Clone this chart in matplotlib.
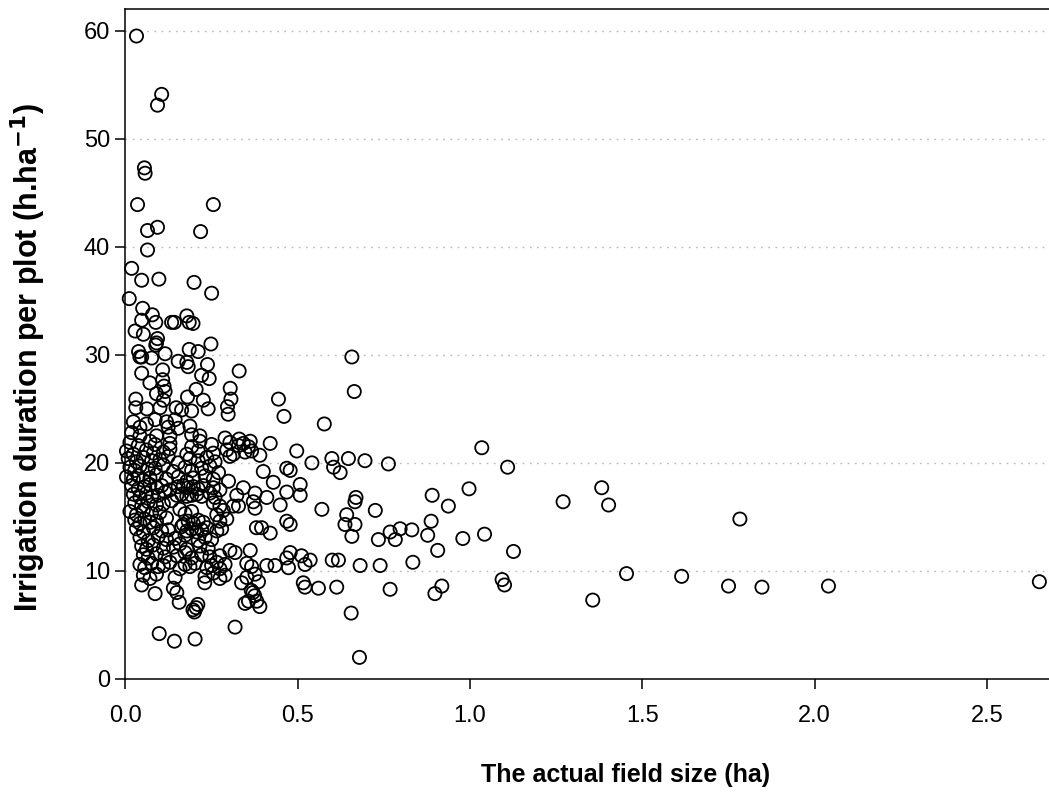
import matplotlib.pyplot as plt
import numpy as np

plt.rcParams['font.family'] = ['Liberation Sans', 'DejaVu Sans']

# field size (ha) / irrigation duration (h/ha)
# outliers and upper part
field_size = [
    0.032, 0.105, 0.093, 0.055, 0.057, 0.035, 0.255, 0.064, 0.093, 0.218, 0.064, 0.018,
    0.047, 0.097, 0.199, 0.250, 0.011, 0.050,
    0.047, 0.078, 0.088, 0.134, 0.142, 0.178, 0.185, 0.196,
    0.028, 0.052, 0.093, 0.090, 0.088, 0.248, 0.038, 0.042, 0.047, 0.115, 0.185, 0.211,
    0.657, 0.076, 0.153, 0.178, 0.182, 0.238, 0.330, 0.108, 0.047, 0.221, 0.243, 0.071,
    0.108, 0.112, 0.115, 0.205, 0.304, 0.090, 0.030, 0.030, 0.110, 0.180, 0.226, 0.306,
    0.444, 0.664, 0.062, 0.100, 0.147, 0.163, 0.192, 0.240, 0.296, 0.298, 0.460, 0.577,
    0.023, 0.042, 0.061, 0.086, 0.119, 0.144, 0.124, 0.153, 0.187, 0.018, 0.042, 0.090,
    0.129, 0.192, 0.216, 0.289, 0.330, 0.362, 0.420,
]
duration = [
    59.5, 54.1, 53.1, 47.3, 46.8, 43.9, 43.9, 41.5, 41.8, 41.4, 39.7, 38.0,
    36.9, 37.0, 36.7, 35.7, 35.2, 34.3,
    33.2, 33.7, 33.0, 33.0, 33.0, 33.6, 33.0, 32.9,
    32.2, 31.9, 31.5, 31.1, 30.9, 31.0, 30.3, 29.8, 29.8, 30.1, 30.5, 30.3,
    29.8, 29.7, 29.4, 29.3, 28.9, 29.1, 28.5, 28.6, 28.3, 28.1, 27.8, 27.4,
    27.7, 27.1, 26.6, 26.8, 26.9, 26.4, 25.9, 25.1, 25.8, 26.1, 25.8, 25.9,
    25.9, 26.6, 25.0, 25.1, 25.1, 24.9, 24.8, 25.0, 25.2, 24.5, 24.3, 23.6,
    23.8, 23.3, 23.6, 24.0, 23.8, 24.0, 23.3, 23.2, 23.4, 22.8, 22.5, 22.5,
    22.5, 22.6, 22.5, 22.3, 22.2, 22.0, 21.8,
]

# dense cluster, small fields
field_size += [
    0.013, 0.037, 0.071, 0.086, 0.129, 0.192, 0.216, 0.250, 0.303, 0.328, 0.342, 0.357,
    0.003, 0.023, 0.061, 0.081, 0.110, 0.129, 0.178, 0.211, 0.255, 0.294, 0.313, 0.347, 0.366, 0.390,
    0.008, 0.032, 0.052, 0.076, 0.100, 0.124, 0.153, 0.187, 0.211, 0.236, 0.260,
    0.013, 0.027, 0.042, 0.066, 0.086, 0.110, 0.139, 0.173, 0.192, 0.221, 0.245,
    0.003, 0.023, 0.037, 0.052, 0.071, 0.090, 0.119, 0.153, 0.178, 0.197, 0.231, 0.255,
    0.018, 0.037, 0.056, 0.071, 0.090, 0.105, 0.129, 0.153, 0.168, 0.182, 0.197, 0.211, 0.226, 0.255, 0.274,
    0.023, 0.042, 0.061, 0.076, 0.095, 0.115, 0.149, 0.163, 0.178, 0.192, 0.207, 0.221, 0.245, 0.260,
    0.027, 0.047, 0.066, 0.090, 0.110, 0.134, 0.255, 0.274,
    0.013, 0.032, 0.052, 0.076, 0.100, 0.158, 0.173, 0.192, 0.265, 0.284,
    0.027, 0.042, 0.056, 0.071, 0.090, 0.119, 0.168, 0.182, 0.197, 0.211, 0.226, 0.274, 0.294,
    0.032, 0.052, 0.081, 0.105, 0.124, 0.163, 0.178, 0.192, 0.207, 0.221, 0.236, 0.265, 0.279,
    0.042, 0.066, 0.095, 0.119, 0.144, 0.173, 0.211, 0.231, 0.250,
    0.047, 0.061, 0.081, 0.110, 0.139, 0.158, 0.178, 0.216, 0.240,
    0.052, 0.066, 0.090, 0.115, 0.149, 0.173, 0.192, 0.221, 0.245, 0.274,
    0.042, 0.056, 0.076, 0.095, 0.110, 0.129, 0.158, 0.173, 0.187, 0.202, 0.236, 0.250,
    0.265, 0.274, 0.289, 0.366, 0.434, 0.473, 0.521,
    0.052, 0.071, 0.090, 0.144, 0.231, 0.255, 0.274, 0.289, 0.352, 0.376,
]
duration += [
    21.9, 21.6, 22.0, 21.7, 21.8, 21.5, 22.0, 21.7, 21.9, 21.6, 21.8, 21.5,
    21.1, 20.8, 21.2, 20.9, 21.0, 21.3, 20.8, 21.1, 20.9, 21.2, 20.8, 21.0, 21.1, 20.7,
    20.4, 20.1, 20.5, 20.2, 20.3, 20.6, 20.0, 20.4, 20.2, 20.5, 20.1,
    19.6, 19.3, 19.7, 19.4, 19.5, 19.8, 19.2, 19.6, 19.3, 19.5, 19.7,
    18.7, 18.5, 18.8, 18.4, 18.6, 18.9, 18.5, 18.7, 18.3, 18.6, 18.8, 18.5,
    17.9, 17.6, 17.8, 18.0, 17.7, 17.9, 17.5, 17.8, 17.9, 17.7, 17.8, 17.6, 17.9, 17.7, 17.5,
    17.1, 16.8, 17.2, 16.9, 17.0, 17.3, 17.0, 17.1, 16.9, 17.0, 17.1, 16.9, 17.2, 16.8,
    16.3, 16.0, 16.4, 16.1, 16.2, 16.5, 16.3, 16.0,
    15.5, 15.2, 15.6, 15.3, 15.4, 15.7, 15.3, 15.5, 15.2, 15.6,
    14.7, 14.4, 14.8, 14.5, 14.6, 14.9, 14.3, 14.6, 14.4, 14.7, 14.5, 14.6, 14.8,
    13.9, 13.6, 14.0, 13.7, 13.8, 14.1, 13.7, 13.9, 13.6, 13.8, 14.0, 13.7, 13.9,
    13.1, 12.8, 13.2, 12.9, 13.0, 13.3, 12.8, 13.1, 12.9,
    12.3, 12.0, 12.4, 12.1, 12.2, 12.5, 12.0, 12.3, 12.1,
    11.5, 11.2, 11.6, 11.3, 11.4, 11.7, 11.2, 11.5, 11.3, 11.4,
    10.6, 10.3, 10.7, 10.4, 10.5, 10.8, 10.2, 10.6, 10.4, 10.7, 10.3, 10.5,
    10.8, 10.2, 10.6, 10.4, 10.5, 10.3, 10.6,
    9.6, 9.3, 9.7, 9.4, 9.5, 9.8, 9.3, 9.6, 9.4, 9.7,
]

# medium fields
field_size += [
    0.497, 0.541, 0.599, 0.604, 0.647, 0.623, 0.695, 0.763, 0.400, 0.468, 0.478, 0.429,
    0.507, 0.468, 0.507, 0.570, 0.669, 0.666, 0.725, 0.642, 0.637, 0.666, 0.468, 0.478,
    0.449, 0.410, 0.376, 0.371, 0.376, 0.342, 0.323, 0.328, 0.313, 0.299, 0.303, 0.270,
    0.768, 0.797, 0.831, 0.734, 0.783, 0.657, 0.395, 0.380, 0.420, 0.511, 0.536, 0.468,
    0.478, 0.600, 0.618, 0.681, 0.739, 0.352, 0.410, 0.303, 0.318, 0.362,
]
duration += [
    21.1, 20.0, 20.4, 19.6, 20.4, 19.1, 20.2, 19.9, 19.2, 19.5, 19.3, 18.2,
    18.0, 17.3, 17.0, 15.7, 16.8, 16.4, 15.6, 15.2, 14.3, 14.3, 14.6, 14.3,
    16.1, 16.8, 17.2, 16.4, 15.8, 17.7, 17.0, 16.0, 16.0, 18.3, 20.6, 19.1,
    13.6, 13.9, 13.8, 12.9, 12.9, 13.2, 14.0, 14.0, 13.5, 11.4, 11.0, 11.2,
    11.7, 11.0, 11.0, 10.5, 10.5, 10.7, 10.5, 11.9, 11.7, 11.9,
]

# large fields
field_size += [
    1.034, 1.109, 0.997, 0.890, 0.937, 0.887, 0.877, 0.979, 1.042, 0.906, 1.126, 0.834,
    0.918, 0.898, 1.093, 1.100, 1.270, 1.382, 1.402, 1.454, 1.356, 1.614, 1.783, 1.750,
    1.847, 2.040, 2.652,
]
duration += [
    21.4, 19.6, 17.6, 17.0, 16.0, 14.6, 13.3, 13.0, 13.4, 11.9, 11.8, 10.8,
    8.6, 7.9, 9.2, 8.7, 16.4, 17.7, 16.1, 9.75, 7.3, 9.5, 14.8, 8.6,
    8.5, 8.6, 9.0,
]

# low durations
field_size += [
    0.047, 0.086, 0.139, 0.149, 0.156, 0.200, 0.205, 0.210, 0.196, 0.230, 0.337, 0.386,
    0.370, 0.375, 0.365, 0.381, 0.357, 0.347, 0.390, 0.560, 0.613, 0.516, 0.521, 0.655,
    0.768, 0.098, 0.142, 0.202, 0.318, 0.679,
]
duration += [
    8.7, 7.9, 8.4, 8.0, 7.1, 6.2, 6.6, 6.9, 6.4, 8.9, 8.9, 9.0,
    8.0, 7.7, 8.2, 7.2, 7.2, 7.0, 6.7, 8.4, 8.5, 8.9, 8.5, 6.1,
    8.3, 4.2, 3.5, 3.7, 4.8, 2.0,
]

x_ticks = [0.0, 0.5, 1.0, 1.5, 2.0, 2.5]
y_ticks = [0, 10, 20, 30, 40, 50, 60]

fig = plt.figure(figsize=(10.49, 7.96), dpi=100)
ax = fig.add_axes([0.1196, 0.147, 0.8804, 0.8417])

ax.scatter(field_size, duration, s=90, facecolors='none', edgecolors='black',
           linewidths=1.3, zorder=3, clip_on=False)

ax.set_xlim(0, 2.68)
ax.set_ylim(0, 62)
ax.set_xticks(x_ticks)
ax.set_xticklabels(['%.1f' % v for v in x_ticks])
ax.set_yticks(y_ticks)

# dotted horizontal grid
for v in y_ticks[1:]:
    ax.axhline(v, color='#b8b8b8', linestyle=(0, (1.2, 4.0)), linewidth=1.0, zorder=1)

for s in ['left', 'bottom', 'top']:
    ax.spines[s].set_linewidth(1.1)
ax.spines['right'].set_visible(False)
ax.tick_params(direction='out', length=7, width=1.1, labelsize=17)
ax.tick_params(axis='x', pad=12)
ax.tick_params(axis='y', pad=4)

ax.set_xlabel('The actual field size (ha)', fontsize=18, fontweight='bold')
ax.xaxis.set_label_coords(0.541, -0.125)
ax.set_ylabel('Irrigation duration per plot (h.ha$^{\\mathbf{-1}}$)', fontsize=22, fontweight='bold')
ax.yaxis.set_label_coords(-0.084, 0.48)

plt.savefig('out.png', dpi=100)
